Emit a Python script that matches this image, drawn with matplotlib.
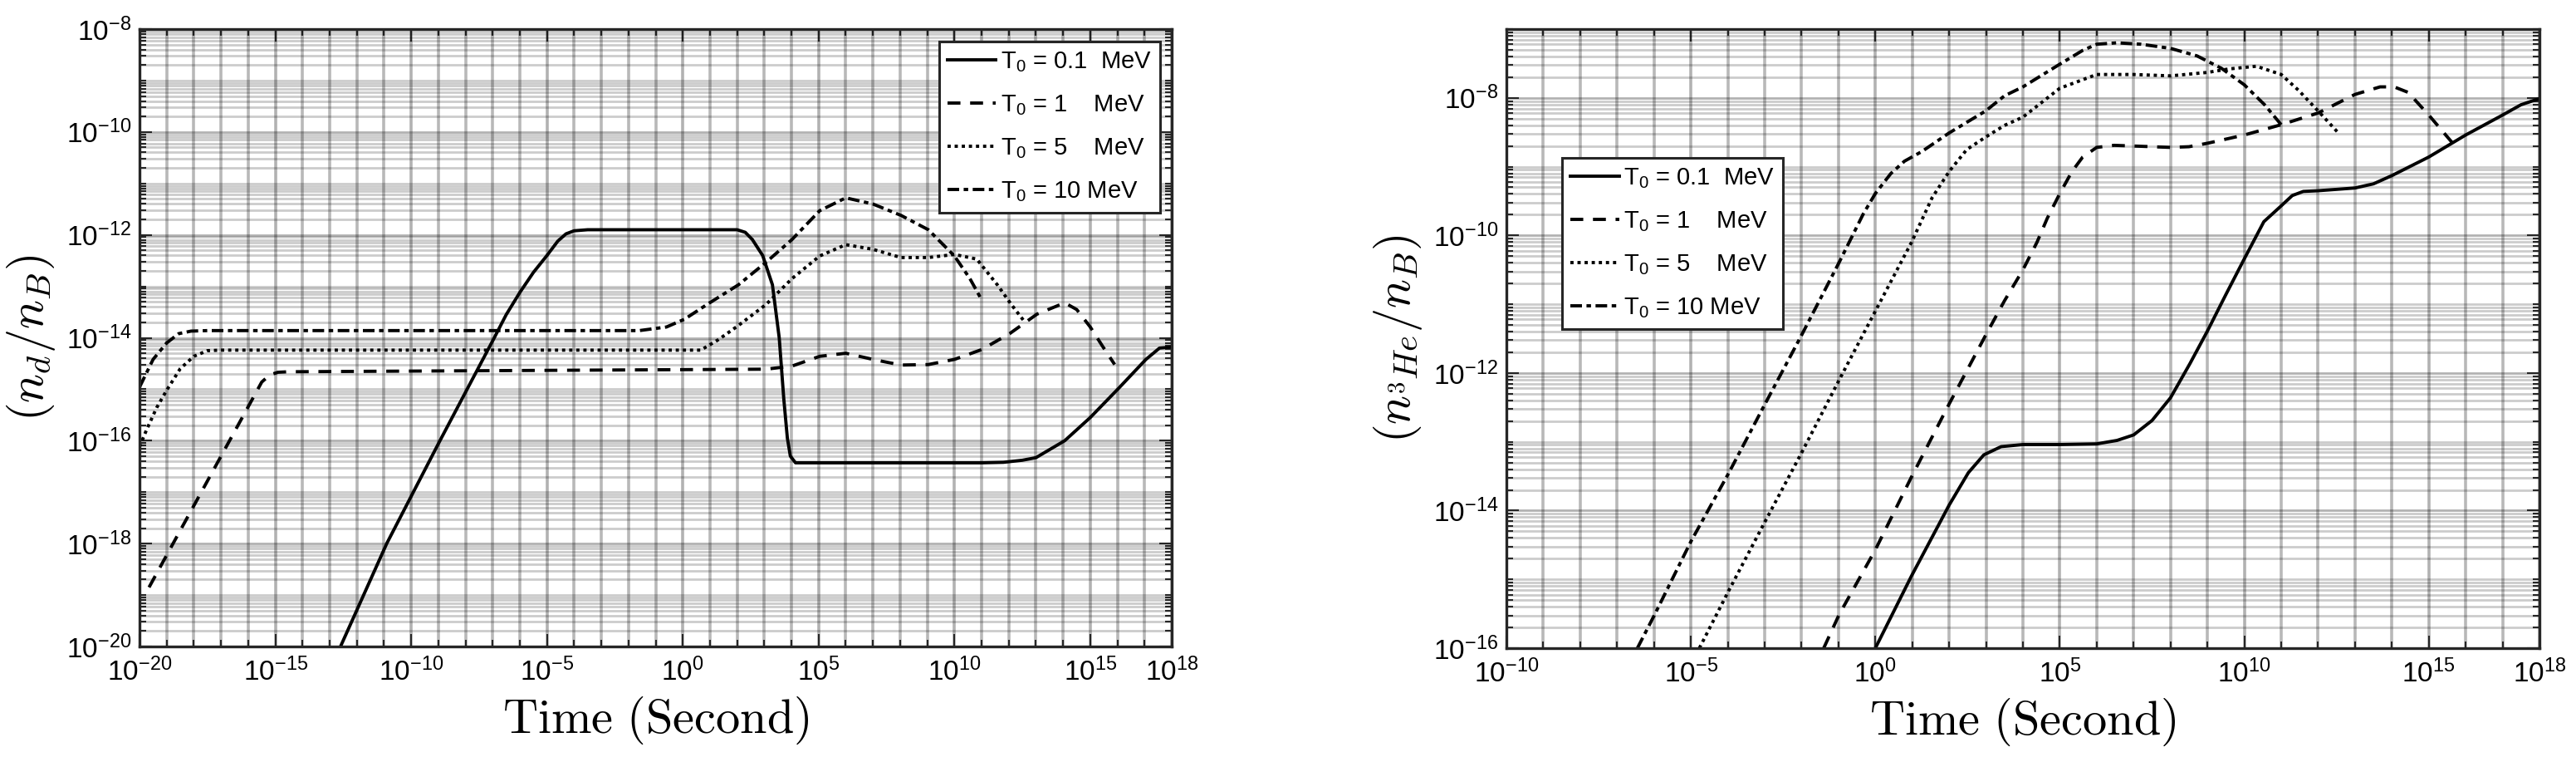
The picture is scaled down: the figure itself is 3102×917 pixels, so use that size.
import numpy as np
import matplotlib
matplotlib.use("Agg")
import matplotlib.pyplot as plt
from matplotlib.ticker import FixedLocator, LogFormatterSciNotation, NullFormatter

plt.rcParams['font.family'] = ['Liberation Sans', 'DejaVu Sans']
plt.rcParams['mathtext.fontset'] = 'custom'
plt.rcParams['mathtext.rm'] = 'Liberation Sans'
plt.rcParams['mathtext.it'] = 'Liberation Sans:italic'
plt.rcParams['mathtext.bf'] = 'Liberation Sans:bold'
plt.rcParams['mathtext.sf'] = 'Liberation Sans'

# legend labels
labels = ['T$_0$ = 0.1  MeV', 'T$_0$ = 1    MeV', 'T$_0$ = 5    MeV', 'T$_0$ = 10 MeV']

# ---- left panel: deuterium, values as log10(t) and log10(n_d/n_B)
d_t01_x = [-12.6, -10.9, -8.94, -6.94, -6.5, -6.0, -5.5, -5.0, -4.6, -4.3, -4.0, -3.5, -1.0,
           1.0, 2.0, 2.3, 2.56, 2.94, 3.3, 3.55, 3.72, 3.85, 3.96, 4.15, 4.5, 8.0, 11.0,
           11.8, 12.5, 13.0, 14.06, 15.0, 16.03, 17.05, 17.55, 18.0]
d_t01_y = [-20.0, -18.0, -16.0, -14.0, -13.55, -13.12, -12.73, -12.4, -12.12, -11.98,
           -11.92, -11.9, -11.9, -11.9, -11.9, -11.95, -12.09, -12.4, -12.97, -14.0, -15.2,
           -15.95, -16.3, -16.43, -16.43, -16.43, -16.43, -16.42, -16.38, -16.33, -16.0,
           -15.55, -14.99, -14.42, -14.2, -14.18]

d_t1_x = [-19.65, -15.5, -15.2, -14.9, -14.5, 3.07, 4.02, 5.04, 6.0, 7.0, 8.03, 9.04, 10.0,
          11.0, 12.03, 13.04, 14.06, 14.5, 15.0, 15.46, 15.9]
d_t1_y = [-18.85, -14.86, -14.72, -14.67, -14.66, -14.61, -14.55, -14.36, -14.3, -14.42,
          -14.53, -14.52, -14.42, -14.23, -13.92, -13.54, -13.32, -13.45, -13.79, -14.17, -14.52]

d_t5_x = [-20.0, -19.75, -19.37, -19.0, -18.5, -18.0, -17.5, -17.0, 0.66, 1.3, 2.05, 3.07,
          4.02, 5.04, 6.0, 7.0, 8.03, 9.04, 10.0, 10.82, 11.58, 12.09, 12.6]
d_t5_y = [-16.12, -15.8, -15.36, -15.02, -14.6, -14.36, -14.25, -14.24, -14.24, -14.04,
          -13.76, -13.35, -12.85, -12.41, -12.19, -12.28, -12.44, -12.44, -12.38, -12.47,
          -12.97, -13.35, -13.7]

d_t10_x = [-20.0, -19.5, -19.0, -18.56, -18.1, -17.5, -1.6, -0.6, 0.06, 0.9, 2.05, 3.07,
           4.02, 5.04, 6.0, 7.0, 8.03, 9.04, 10.0, 10.57, 11.0]
d_t10_y = [-14.96, -14.42, -14.1, -13.92, -13.87, -13.86, -13.86, -13.79, -13.64, -13.35,
           -12.97, -12.53, -12.09, -11.53, -11.28, -11.4, -11.62, -11.9, -12.41, -12.85, -13.26]

# ---- right panel: helium-3, values as log10(t) and log10(n_3He/n_B)
h_t01_x = [0.0, 0.98, 2.0, 2.52, 2.94, 3.41, 4.0, 5.0, 6.0, 6.55, 7.0, 7.5, 8.0, 8.53, 9.0,
           9.5, 10.0, 10.53, 11.0, 11.3, 11.6, 12.0, 13.0, 13.5, 14.0, 15.0, 16.0, 17.0,
           17.5, 18.0]
h_t01_y = [-16.0, -14.95, -13.92, -13.45, -13.19, -13.07, -13.04, -13.04, -13.03, -12.98,
           -12.9, -12.69, -12.36, -11.86, -11.39, -10.86, -10.34, -9.8, -9.57, -9.42, -9.36,
           -9.35, -9.31, -9.25, -9.13, -8.86, -8.54, -8.25, -8.1, -8.01]

h_t1_x = [-1.4, -0.98, 0.0, 0.98, 2.0, 2.99, 3.5, 4.0, 4.38, 4.66, 5.0, 5.33, 5.62, 6.0,
          6.47, 7.0, 8.0, 8.5, 9.0, 10.0, 11.0, 12.0, 13.0, 13.68, 14.06, 14.44, 15.0, 15.65]
h_t1_y = [-16.0, -15.51, -14.57, -13.51, -12.45, -11.45, -10.95, -10.5, -10.1, -9.75, -9.39,
          -9.07, -8.86, -8.72, -8.69, -8.7, -8.72, -8.71, -8.66, -8.54, -8.39, -8.22, -7.95,
          -7.84, -7.84, -7.92, -8.25, -8.66]

h_t5_x = [-4.77, -3.97, -2.99, -2.0, -0.98, 0.0, 0.98, 1.54, 2.0, 2.48, 2.99, 3.5, 4.0, 5.0,
          6.0, 7.0, 8.0, 9.0, 9.57, 10.33, 11.0, 11.47, 12.0, 12.55]
h_t5_y = [-16.0, -15.16, -14.16, -13.16, -12.1, -11.1, -10.1, -9.45, -9.07, -8.75, -8.57,
          -8.4, -8.28, -7.86, -7.66, -7.66, -7.68, -7.63, -7.58, -7.54, -7.66, -7.89, -8.19,
          -8.51]

h_t10_x = [-6.45, -5.98, -5.0, -3.97, -2.99, -2.0, -0.98, -0.33, 0.0, 0.42, 0.79, 1.26, 2.0,
           2.99, 3.5, 4.0, 5.0, 5.62, 6.0, 6.55, 7.2, 8.0, 8.72, 9.38, 10.0, 10.55, 11.0]
h_t10_y = [-16.0, -15.51, -14.45, -13.45, -12.45, -11.45, -10.39, -9.69, -9.39, -9.1, -8.92,
           -8.78, -8.51, -8.19, -7.97, -7.84, -7.51, -7.31, -7.22, -7.2, -7.22, -7.28, -7.39,
           -7.57, -7.81, -8.1, -8.39]

line_styles = ['-', (0, (4, 3)), (0, (1, 1.2)), (0, (3.6, 1.4, 1.4, 1.4))]


def setup_axes(ax, xmin, xmax, ymin, ymax, xmajor, ymajor):
    ax.set_xscale('log')
    ax.set_yscale('log')
    ax.set_xlim(10.0 ** xmin, 10.0 ** xmax)
    ax.set_ylim(10.0 ** ymin, 10.0 ** ymax)
    ax.xaxis.set_major_locator(FixedLocator([10.0 ** k for k in xmajor]))
    ax.xaxis.set_minor_locator(FixedLocator([10.0 ** k for k in range(xmin, xmax + 1)]))
    ax.yaxis.set_major_locator(FixedLocator([10.0 ** k for k in ymajor]))
    ax.yaxis.set_minor_locator(FixedLocator([m * 10.0 ** k for k in range(ymin, ymax)
                                             for m in range(1, 10)] + [10.0 ** ymax]))
    ax.xaxis.set_major_formatter(LogFormatterSciNotation())
    ax.yaxis.set_major_formatter(LogFormatterSciNotation())
    ax.xaxis.set_minor_formatter(NullFormatter())
    ax.yaxis.set_minor_formatter(NullFormatter())
    ax.set_axisbelow(True)
    ax.xaxis.grid(True, which='major', color='k', alpha=0.3, lw=2.6)
    ax.xaxis.grid(True, which='minor', color='k', alpha=0.28, lw=2.6)
    ax.yaxis.grid(True, which='major', color='k', alpha=0.3, lw=2.0)
    ax.yaxis.grid(True, which='minor', color='k', alpha=0.2, lw=2.0)
    ax.tick_params(which='both', direction='in', top=True, right=True,
                   color='#262626', width=1.5, labelsize=24)
    ax.tick_params(which='major', length=10.8)
    ax.tick_params(which='minor', length=5.8)
    ax.tick_params(axis='x', pad=10)
    ax.tick_params(axis='y', pad=7)
    for s in ax.spines.values():
        s.set_linewidth(2.4)
        s.set_color('#262626')
    ax.set_xlabel(r'$\mathrm{Time\ (Second)}$', fontsize=42, math_fontfamily='cm', labelpad=7)


def draw(ax, xs, ys):
    for x, y, ls, lab in zip(xs, ys, line_styles, labels):
        ax.plot(10.0 ** np.array(x), 10.0 ** np.array(y), color='k', lw=2.8,
                linestyle=ls, label=lab, dash_capstyle='butt')


def add_legend(ax, **kw):
    leg = ax.legend(borderaxespad=0, fontsize=21, handlelength=2.0, handletextpad=0.2,
                    labelspacing=0.8, borderpad=0.35, fancybox=False, framealpha=1,
                    edgecolor='#262626', **kw)
    leg.get_frame().set_linewidth(2.2)
    return leg


fig = plt.figure(figsize=(31.02, 9.17), dpi=100)

ax1 = fig.add_axes([168 / 3102, 1 - 778 / 917, 1243 / 3102, 743 / 917])
setup_axes(ax1, -20, 18, -20, -8, [-20, -15, -10, -5, 0, 5, 10, 15, 18], range(-20, -7, 2))
draw(ax1, [d_t01_x, d_t1_x, d_t5_x, d_t10_x], [d_t01_y, d_t1_y, d_t5_y, d_t10_y])
ax1.set_ylabel(r'$(n_d/n_B)$', fontsize=42, math_fontfamily='cm', labelpad=8)
add_legend(ax1, loc='upper right', bbox_to_anchor=(1 - 14 / 1243, 1 - 15 / 743))

ax2 = fig.add_axes([1814 / 3102, 1 - 780 / 917, 1244 / 3102, 745 / 917])
setup_axes(ax2, -10, 18, -16, -7, [-10, -5, 0, 5, 10, 15, 18], range(-16, -7, 2))
draw(ax2, [h_t01_x, h_t1_x, h_t5_x, h_t10_x], [h_t01_y, h_t1_y, h_t5_y, h_t10_y])
ax2.set_ylabel(r'$(n_{{}^{3}He}/n_B)$', fontsize=42, math_fontfamily='cm', labelpad=8)
add_legend(ax2, loc='upper left', bbox_to_anchor=(67 / 1244, 1 - 155 / 745))

fig.savefig('out.png', dpi=100)
